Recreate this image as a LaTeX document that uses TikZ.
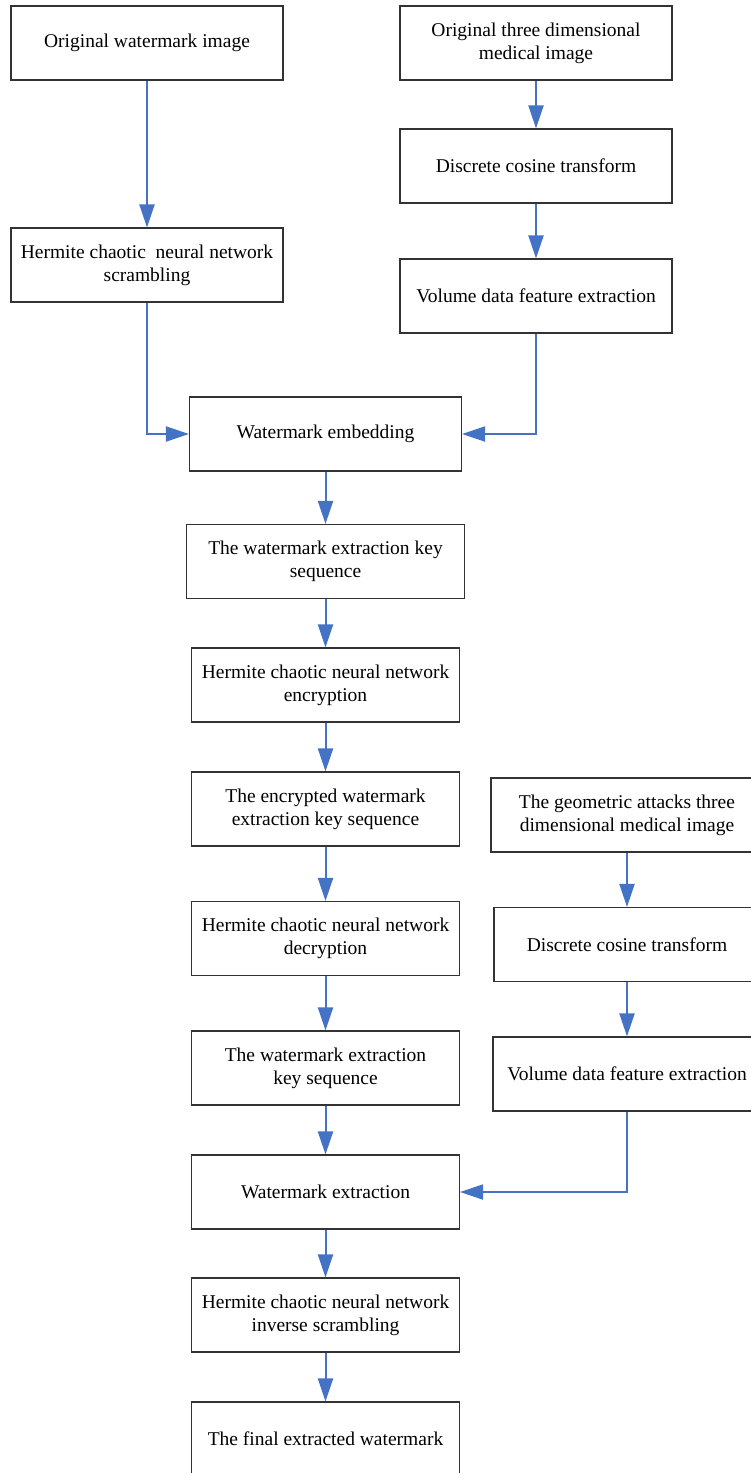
\documentclass[tikz,border=0pt]{standalone}
\usepackage{fontspec}
\setmainfont{Liberation Serif}
\usepackage{xcolor}
\usetikzlibrary{arrows.meta}
\definecolor{flowblue}{HTML}{4472C4}
\tikzset{
  box/.style={draw=black!80, line width=1.1pt, minimum width=268pt, minimum height=74pt,
    inner sep=0pt, align=center, font=\fontsize{19.5}{23}\selectfont},
  flow/.style={draw=flowblue, line width=2pt, -{Triangle[length=23pt, width=15pt]}}
}

\begin{document}
\begin{tikzpicture}[x=1pt, y=-1pt]
  \useasboundingbox (0, 0) rectangle (751, 1473);

  % embedding side
  \node[box, minimum width=272pt] (wm) at (147, 43) {Original watermark image};
  \node[box, minimum width=272pt] (med) at (536, 43) {Original three dimensional\\medical image};
  \node[box, minimum width=272pt] (dct) at (536, 166) {Discrete cosine transform};
  \node[box, minimum width=272pt] (scr) at (147, 265) {Hermite chaotic~ neural network\\scrambling};
  \node[box, minimum width=272pt] (vol) at (536, 296) {Volume data feature extraction};
  \node[box, minimum width=272pt] (emb) at (325.5, 434) {Watermark embedding};
  \node[box, minimum width=278pt] (key) at (325.5, 561.5) {The watermark extraction key\\sequence};
  \node[box] (enc) at (325.5, 685) {Hermite chaotic neural network\\encryption};
  \node[box] (enckey) at (325.5, 809) {The encrypted watermark\\extraction key sequence};

  % extraction side
  \node[box] (dec) at (325.5, 938.5) {Hermite chaotic neural network\\decryption};
  \node[box] (key2) at (325.5, 1068) {The watermark extraction\\key sequence};
  \node[box] (ext) at (325.5, 1192) {Watermark extraction};
  \node[box] (inv) at (325.5, 1315) {Hermite chaotic neural network\\inverse scrambling};
  \node[box] (final) at (325.5, 1439) {The final extracted watermark};

  \node[box, minimum width=272pt] (geo) at (627, 815) {The geometric attacks three\\dimensional medical image};
  \node[box, minimum width=266pt] (dct2) at (627, 944.5) {Discrete cosine transform};
  \node[box] (vol2) at (627, 1074) {Volume data feature extraction};

  \draw[flow] (wm) -- (scr);
  \draw[flow] (med) -- (dct);
  \draw[flow] (dct) -- (vol);
  \draw[flow] (scr.south) |- (emb.west);
  \draw[flow] (vol.south) |- (emb.east);
  \draw[flow] (emb) -- (key);
  \draw[flow] (key) -- (enc);
  \draw[flow] (enc) -- (enckey);
  \draw[flow] (enckey) -- (dec);
  \draw[flow] (dec) -- (key2);
  \draw[flow] (key2) -- (ext);
  \draw[flow] (ext) -- (inv);
  \draw[flow] (inv) -- (final);

  \draw[flow] (geo) -- (dct2);
  \draw[flow] (dct2) -- (vol2);
  \draw[flow] (vol2.south) |- (ext.east);
\end{tikzpicture}
\end{document}
